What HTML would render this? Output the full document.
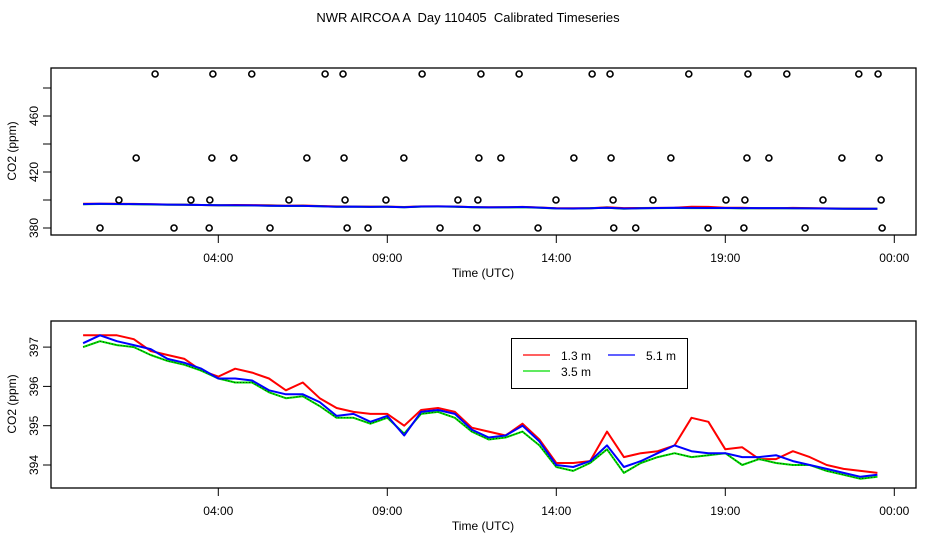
<!DOCTYPE html>
<html><head><meta charset="utf-8"><style>
body{margin:0;background:#fff}
svg{display:block;font-family:"Liberation Sans",sans-serif}
</style></head><body>
<svg id="c" width="936" height="540" viewBox="0 0 936 540">
<text x="468" y="22" text-anchor="middle" font-size="13" style="white-space:pre" xml:space="preserve">NWR AIRCOA A  Day 110405  Calibrated Timeseries</text>
<g id="top"></g>
<g id="bot"></g>
</svg>
<script>
const hours=[0,0.5,1,1.5,2,2.5,3,3.5,4,4.5,5,5.5,6,6.5,7,7.5,8,8.5,9,9.5,10,10.5,11,11.5,12,12.5,13,13.5,14,14.5,15,15.5,16,16.5,17,17.5,18,18.5,19,19.5,20,20.5,21,21.5,22,22.5,23,23.5];
const red=[397.3,397.3,397.3,397.2,396.9,396.8,396.7,396.4,396.25,396.45,396.35,396.2,395.9,396.1,395.7,395.45,395.35,395.3,395.3,395.0,395.4,395.45,395.35,394.95,394.85,394.75,395.05,394.65,394.05,394.05,394.1,394.85,394.2,394.3,394.35,394.5,395.2,395.1,394.4,394.45,394.15,394.15,394.35,394.2,394.0,393.9,393.85,393.8];
const green=[397.0,397.15,397.05,397.0,396.8,396.65,396.55,396.4,396.2,396.1,396.1,395.85,395.7,395.75,395.5,395.2,395.2,395.05,395.2,394.8,395.3,395.35,395.2,394.85,394.65,394.7,394.85,394.5,393.95,393.85,394.05,394.4,393.8,394.05,394.2,394.3,394.2,394.25,394.3,394.0,394.15,394.05,394.0,394.0,393.85,393.75,393.65,393.7];
const blue=[397.1,397.3,397.15,397.05,396.95,396.7,396.6,396.45,396.2,396.2,396.15,395.9,395.8,395.8,395.6,395.25,395.3,395.1,395.25,394.75,395.35,395.4,395.3,394.9,394.7,394.75,395.0,394.6,394.0,393.95,394.1,394.5,393.95,394.1,394.3,394.5,394.35,394.3,394.3,394.2,394.2,394.25,394.1,394.0,393.9,393.8,393.7,393.75];
const ptHours=[0.50,2.69,3.73,5.53,7.81,8.43,10.56,11.65,13.46,15.70,16.35,18.49,19.55,21.36,23.64,
1.06,3.19,3.75,6.09,7.75,8.96,11.09,11.68,13.99,15.68,16.86,19.02,19.58,21.89,23.61,
1.57,3.81,4.46,6.62,7.72,9.49,11.71,12.36,14.52,15.62,17.39,19.64,20.29,22.45,23.55,
2.13,3.84,4.99,7.16,7.69,10.03,11.77,12.90,15.06,15.59,17.92,19.67,20.82,22.95,23.52];
const ptVals=[380,380,380,380,380,380,380,380,380,380,380,380,380,380,380,
400,400,400,400,400,400,400,400,400,400,400,400,400,400,400,
430,430,430,430,430,430,430,430,430,430,430,430,430,430,430,
490,490,490,490,490,490,490,490,490,490,490,490,490,490,490];
const xTickHours=[4,9,14,19,24];
const xTickLabels=["04:00","09:00","14:00","19:00","00:00"];
const topTicks=[380,400,420,440,460,480];
const topLabels=["380","","420","","460",""];
const botTicks=[394,395,396,397];

const NS="http://www.w3.org/2000/svg";
function mk(p,t,a){const e=document.createElementNS(NS,t);for(const k in a)e.setAttribute(k,a[k]);p.appendChild(e);return e;}
const X=h=>83.1+33.8*h;
const Yt=v=>228-(v-380)*1.4;
const Yb=v=>465-(v-394)*39.3;

function panel(g,top,bot,yf,ticks,labels,lblY){
  const box=mk(g,'rect',{x:51,y:top,width:865,height:bot-top,fill:'none',stroke:'#000','stroke-width':1.3});
  
  
  xTickHours.forEach((h,i)=>{
    const l=mk(g,'line',{x1:X(h),x2:X(h),y1:bot,y2:bot+8,stroke:'#000'});
    
    
    const t=mk(g,'text',{x:X(h),y:bot+27,'text-anchor':'middle','font-size':12});
    t.textContent=xTickLabels[i];
    
    
  });
  const xt=mk(g,'text',{x:483,y:bot+42,'text-anchor':'middle','font-size':12});
  xt.textContent='Time (UTC)';
  
  
  ticks.forEach((v,i)=>{
    const y=yf(v);
    const l=mk(g,'line',{x1:43,x2:51,y1:y,y2:y,stroke:'#000'});
    
    
    if(labels[i]){
      const t=mk(g,'text',{x:0,y:0,'text-anchor':'middle','font-size':12,transform:`translate(38,${y}) rotate(-90)`});
      t.textContent=labels[i];
      
      
    }
  });
  const yt=mk(g,'text',{x:0,y:0,'text-anchor':'middle','font-size':12,transform:`translate(16,${lblY}) rotate(-90)`});
  yt.textContent='CO2 (ppm)';
  
  
}
function series(g,vals,yf,color,w,name){
  const d=hours.map((h,i)=>(i?'L':'M')+X(h).toFixed(1)+','+yf(vals[i]).toFixed(1)).join('');
  const p=mk(g,'path',{d,fill:'none',stroke:color,'stroke-width':w,'stroke-linejoin':'round'});
  
  
  return d;
}
const T=document.getElementById('top'),B=document.getElementById('bot');
panel(T,68,235,Yt,topTicks,topLabels,151);
panel(B,321,488,Yb,botTicks,botTicks.map(String),404);

series(T,red,Yt,'#f00',2,'top-line-1-3m');
series(T,green,Yt,'#0d0',2,'top-line-3-5m');
series(T,blue,Yt,'#00f',2,'top-line-5-1m');
ptHours.forEach((h,i)=>{
  const c=mk(T,'circle',{cx:X(h),cy:Yt(ptVals[i]),r:3,fill:'none',stroke:'#000','stroke-width':1.6});
  
  
});

series(B,red,Yb,'#f00',2,'line-1-3m');
const gd=series(B,green,Yb,'#0d0',2,'line-3-5m');
const dot=mk(B,'path',{d:gd,fill:'none',stroke:'#000','stroke-width':0.7,'stroke-dasharray':'1,2'});


series(B,blue,Yb,'#00f',2,'line-5-1m');

const L=mk(B,'g',{});


mk(L,'rect',{x:511.5,y:338.5,width:176,height:50,fill:'#fff',stroke:'#000'});
const ents=[['#f00',523,355,'1.3 m',561,'legend-entry-1-3m'],['#00f',608,355,'5.1 m',646,'legend-entry-5-1m'],['#0d0',523,371,'3.5 m',561,'legend-entry-3-5m']];
ents.forEach(e=>{
  const g=mk(L,'g',{});
  
  
  mk(g,'line',{x1:e[1],x2:e[1]+27,y1:e[2],y2:e[2],stroke:e[0],'stroke-width':1.2});
  const t=mk(g,'text',{x:e[4],y:e[2]+5,'font-size':12});
  t.textContent=e[3];
});
</script>
</body></html>
